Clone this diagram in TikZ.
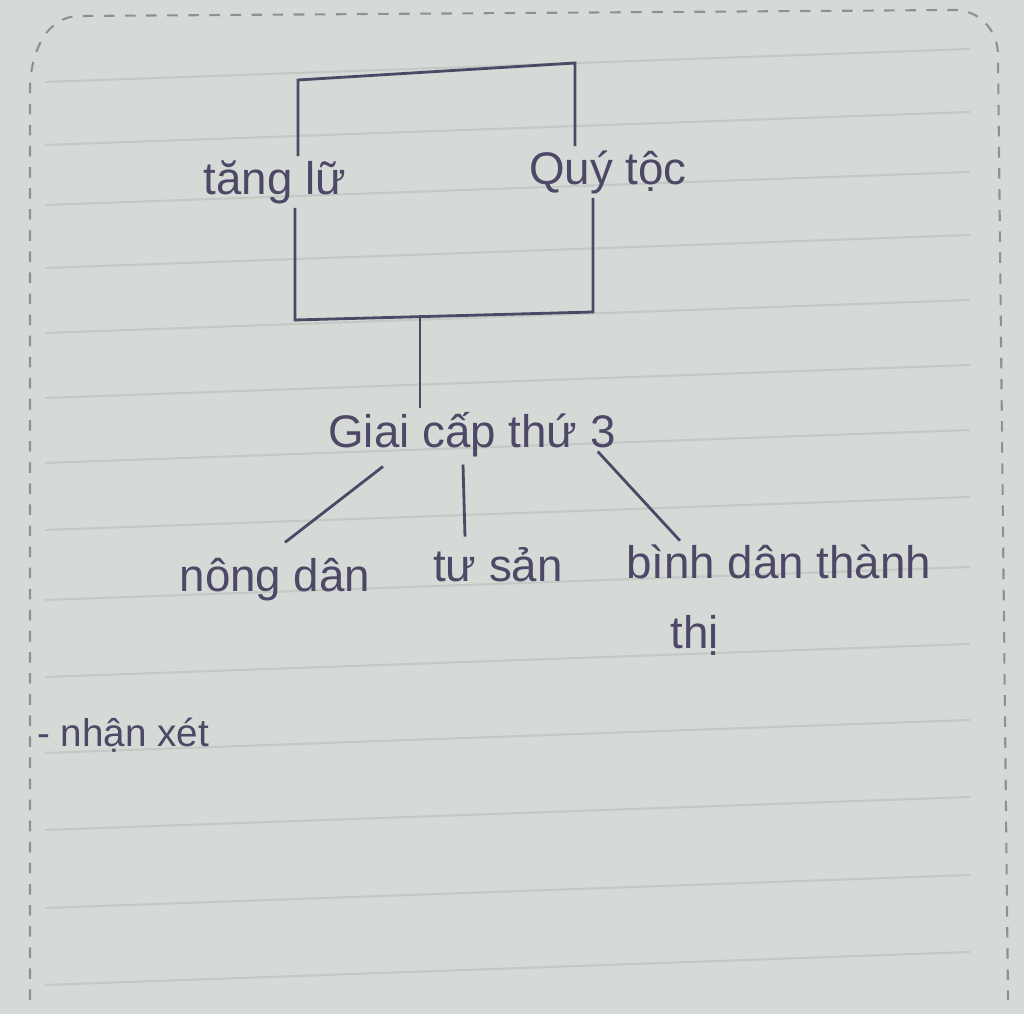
\documentclass[tikz,border=0pt]{standalone}
\usepackage{fontspec}
\setmainfont{Liberation Sans}
\usetikzlibrary{calc}
\definecolor{inkc}{HTML}{4D4866}
\definecolor{paper}{HTML}{D6DAD7}
\definecolor{rulec}{HTML}{C4C9C6}
\definecolor{edgec}{HTML}{8C9290}
\tikzset{ink/.style={draw=inkc, line width=0.8pt},
chu/.style={text=inkc, font=\fontsize{13}{15}\selectfont, inner sep=1pt}}
\begin{document}
\begin{tikzpicture}
\useasboundingbox (0,0) rectangle (10.24,-10.14);
\fill [paper] (0,0) rectangle (10.24,-10.14);

\foreach \y in {82,145,205,268,333,398,463,530,600,677,753,830,908,985}
\draw [rulec, line width=0.6pt] (0.45,{-\y/100}) -- (9.7,{-\y/100+0.33});

\draw [edgec, dashed, line width=0.6pt] (0.30,-10.0) -- (0.30,-0.9)
to [out=90,in=180] (0.80,-0.16) -- (9.55,-0.10)
to [out=0,in=90] (9.98,-0.55) -- (10.08,-10.0);

\coordinate (tl) at (2.98,-0.80);
\coordinate (tr) at (5.75,-0.63);
\coordinate (br) at (5.93,-3.12);
\coordinate (bl) at (2.95,-3.20);
\coordinate (mid) at (4.20,-3.16);

\node [chu] (tangl) at (2.75,-1.82) {tăng lữ};
\node [chu] (quytoc) at (6.08,-1.72) {Quý tộc};

\draw [ink] (tl |- tangl.north) -- (tl) -- (tr) -- (tr |- quytoc.north);
\draw [ink] (br |- quytoc.south) -- (br) -- (bl) -- (bl |- tangl.south);

\node [chu] (giai) at (4.72,-4.35) {Giai cấp thứ 3};
\draw [ink] (mid) -- (mid |- giai.north);

\node [chu] (nongdan) at (2.75,-5.80) {nông dân};
\node [chu] (tusan) at (4.98,-5.65) {tư sản};
\node [chu, anchor=west] (binhdan) at (6.22,-5.62) {bình dân thành};
\node [chu] (thi) at (6.95,-6.35) {thị};

\draw [ink] ($(giai.south)+(-0.89,-0.05)$) -- ($(nongdan.north)+(0.10,0.12)$);
\draw [ink] ($(giai.south)+(-0.09,-0.03)$) -- ($(tusan.north)+(-0.33,0.07)$);
\draw [ink] ($(giai.south east)+(-0.22,0.10)$) -- ($(binhdan.north west)+(0.58,0.00)$);

\node [chu, anchor=west, font=\fontsize{11}{13}\selectfont] (nhanxet) at (0.33,-7.35) {- nhận xét};
\end{tikzpicture}
\end{document}
